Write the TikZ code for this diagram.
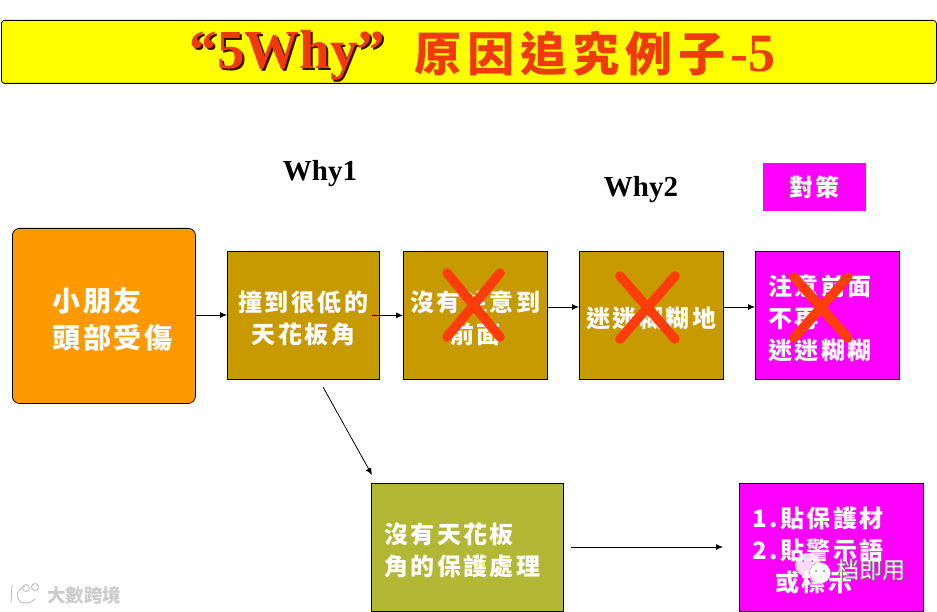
\documentclass[tikz,border=0pt]{standalone}
\usepackage{fontspec}
\setmainfont{Liberation Serif}
\newfontfamily\cjk[LetterSpace=10]{Noto Sans CJK TC}
\newfontfamily\cjkwide[LetterSpace=12]{Noto Sans CJK TC}
\newfontfamily\cjkplain{Noto Sans CJK TC}
\usetikzlibrary{arrows.meta}
\definecolor{goldbox}{HTML}{C69A00}
\definecolor{orangebox}{HTML}{FF9900}
\definecolor{olivebox}{HTML}{B2B835}
\definecolor{crossred}{HTML}{FF3D0A}
\definecolor{titlered}{HTML}{F03A0A}
\definecolor{pinkbox}{HTML}{FF00FF}
\definecolor{barfill}{HTML}{FFFF00}
\newcommand{\topgap}{\rule{0pt}{27pt}}
\tikzset{
  box/.style={draw=black,line width=.8pt,anchor=north west,inner ysep=0pt,text=white,
    font=\cjk\bfseries\fontsize{24}{32}\selectfont},
  gold/.style={box,fill=goldbox,align=center},
  pink/.style={box,fill=pinkbox,align=left},
  link/.style={draw=black,line width=.8pt,-{Latex[length=7pt,width=6pt]}},
  cross/.style={draw=crossred,line width=9.5pt,line cap=round},
  whylabel/.style={font=\bfseries\fontsize{29}{32}\selectfont,text=black},
  faint/.style={draw=black!22,line width=1.1pt,fill=none}
}
\begin{document}
\begin{tikzpicture}[x=1pt,y=-1pt]
\useasboundingbox (0,0) rectangle (937,612);
\fill[white] (0,0) rectangle (937,612);
% title bar
\node[draw=black,line width=.8pt,fill=barfill,rounded corners=3pt,anchor=north west,
  minimum width=935pt,minimum height=63pt,inner sep=0pt] (bar) at (1,20) {};
\node[text=black!75!titlered,font=\bfseries\fontsize{55}{60}\selectfont,inner sep=0pt] (shadow) at (289.5,57) {“5Why”};
\node[text=titlered,font=\bfseries\fontsize{55}{60}\selectfont,inner sep=0pt] (title) at (287.5,55) {“5Why”};
\node[text=titlered,font=\cjkwide\bfseries\fontsize{47}{50}\selectfont,inner sep=0pt] (titlecjk) at (570,54) {原因追究例子};
\node[text=titlered,font=\bfseries\fontsize{54}{56}\selectfont,inner sep=0pt] (titlenum) at (753,54) {-5};
% headings
\node[whylabel,inner sep=0pt] (why1) at (320,174) {Why1};
\node[whylabel,inner sep=0pt] (why2) at (641,190) {Why2};
\node[fill=pinkbox,text=white,minimum width=103pt,minimum height=48pt,inner sep=0pt,
  font=\cjk\bfseries\fontsize{24}{28}\selectfont] (plan) at (814.5,187) {對策};
% boxes
\node[box,fill=orangebox,rounded corners=7pt,align=left,inner xsep=40pt,text width=103pt,
  minimum height=175pt,font=\cjk\bfseries\fontsize{28}{37}\selectfont] (kid) at (12,228) {\rule{0pt}{31pt}小朋友\\頭部受傷};
\node[gold,inner xsep=2pt,text width=148pt,minimum height=128pt] (b1) at (227,251) {\topgap 撞到很低的\\天花板角};
\node[gold,inner xsep=2pt,text width=140pt,minimum height=128pt] (b2) at (403,251) {\topgap 沒有注意到\\前面};
\node[gold,inner xsep=2pt,text width=140pt,minimum height=128pt] (b3) at (579,251) {\topgap 迷迷糊糊地};
\node[pink,inner xsep=13pt,text width=118pt,minimum height=128pt] (b4) at (755,251) {\topgap 注意前面\\不再\\迷迷糊糊};
\node[box,fill=olivebox,align=left,inner xsep=13pt,text width=166pt,minimum height=128pt] (b5) at (371,483) {\topgap 沒有天花板\\角的保護處理};
\node[pink,inner xsep=13pt,text width=158pt,minimum height=128pt] (b6) at (739,483) {\topgap 1.貼保護材\\2.貼警示語\\\hspace*{23pt}或標示};
% connectors
\draw[link] (kid.east |- 0,315) -- (b1.west |- 0,315);
\draw[link] ([xshift=-8pt]b1.east) -- (b2.west |- b1.east);
\draw[link] (b2.east |- 0,307) -- (b3.west |- 0,307);
\draw[link] (b3.east |- 0,307) -- (b4.west |- 0,307);
\coordinate (diagstart) at (323,387);
\coordinate (diagend) at (372,475);
\draw[link] (diagstart) -- (diagend);
\coordinate (longstart) at (571,547);
\coordinate (longend) at (723,547);
\draw[link] (longstart) -- (longend);
% crosses
\draw[cross] (447,273) -- (500,337) (500,273) -- (447,337);
\draw[cross] (620,276) -- (675,339) (675,276) -- (620,339);
\draw[cross] (794,277) -- (848,338) (848,277) -- (794,338);
% watermark, right
\fill[white,opacity=.85] (808,565) ellipse (13pt and 12pt);
\fill[white,draw=black!35,line width=.4pt] (820,573) circle (10.5pt);
\fill[black!50] (803,561) circle (1pt) (812,561) circle (1pt) (816,571) circle (1pt) (824,571) circle (1pt);
\node[text=black!55,font=\cjkplain\fontsize{23}{26}\selectfont,inner sep=0pt] (wmshadow) at (872,571) {档即用};
\node[text=white,font=\cjkplain\fontsize{23}{26}\selectfont,inner sep=0pt] (wmright) at (871,570) {档即用};
% watermark, left
\draw[faint] (12,585) -- (11,603);
\draw[faint] (25,586) .. controls (16,590) and (15,598) .. (21,602) .. controls (26,604) and (31,603) .. (35,599);
\draw[faint] (26,588) circle (3.5pt) (35,587) circle (3.5pt);
\node[text=black!20,font=\cjkplain\bfseries\fontsize{18.5}{20}\selectfont,inner sep=0pt] (wmleft) at (84,595) {大數跨境};
\end{tikzpicture}
\end{document}
